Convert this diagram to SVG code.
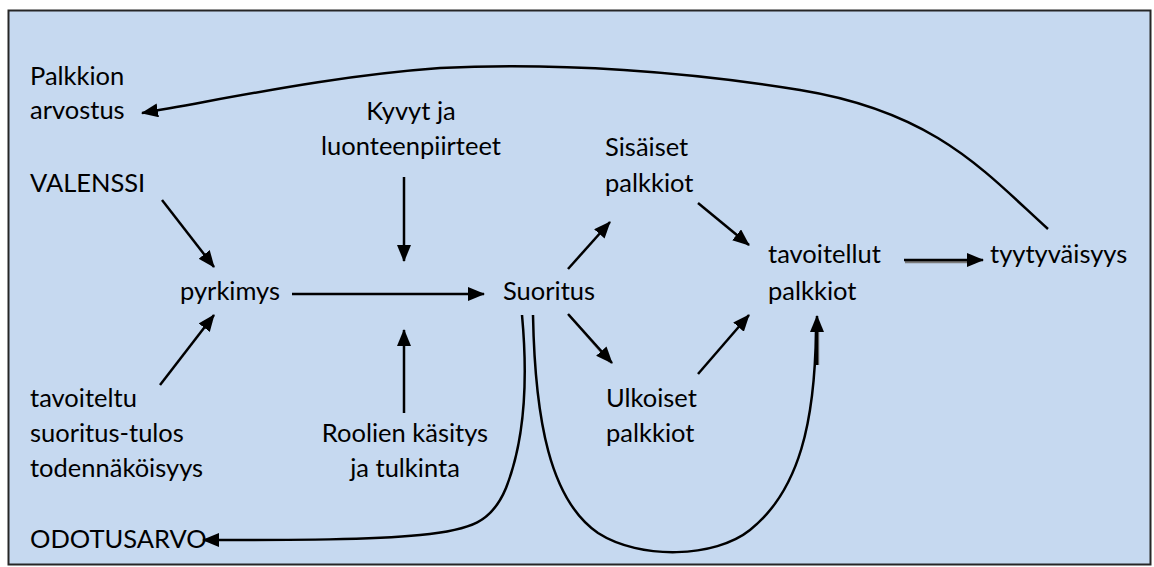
<svg xmlns="http://www.w3.org/2000/svg" width="1154" height="567" viewBox="0 0 1154 567">
  <style>
    .lbl { font-family: Lato, "Liberation Sans", sans-serif; font-size: 25.5px; fill: #000; }
    .mid { text-anchor: middle; }
    .con { fill: none; stroke: #000; stroke-width: 2.5; }
    .shadow { fill: none; stroke: #7a7a7a; stroke-width: 2.5; }
  </style>
  <defs>
    <marker id="head" markerUnits="userSpaceOnUse" markerWidth="20" markerHeight="16" refX="16" refY="7" orient="auto">
      <path d="M0,0 L17,7 L0,14 Z" fill="#000"/>
    </marker>
  </defs>

  <!-- background panel -->
  <rect x="8.5" y="10.5" width="1142" height="554" fill="#c6d9f0" stroke="#262626" stroke-width="2"/>

  <!-- nodes -->
  <g id="palkkion-arvostus">
    <text class="lbl" x="30" y="85">Palkkion</text>
    <text class="lbl" x="30" y="119">arvostus</text>
  </g>
  <g id="valenssi">
    <text class="lbl" x="30" y="192">VALENSSI</text>
  </g>
  <g id="kyvyt">
    <text class="lbl mid" x="411" y="120">Kyvyt ja</text>
    <text class="lbl mid" x="411" y="155">luonteenpiirteet</text>
  </g>
  <g id="sisaiset">
    <text class="lbl" x="605" y="156">Sisäiset</text>
    <text class="lbl" x="605" y="192">palkkiot</text>
  </g>
  <g id="pyrkimys">
    <text class="lbl" x="180" y="300">pyrkimys</text>
  </g>
  <g id="suoritus">
    <text class="lbl" x="503" y="300">Suoritus</text>
  </g>
  <g id="tavoitellut">
    <text class="lbl" x="768" y="263">tavoitellut</text>
    <text class="lbl" x="768" y="300">palkkiot</text>
  </g>
  <g id="tyytyvaisyys">
    <text class="lbl" x="990" y="263">tyytyväisyys</text>
  </g>
  <g id="tavoiteltu">
    <text class="lbl" x="30" y="407">tavoiteltu</text>
    <text class="lbl" x="30" y="442">suoritus-tulos</text>
    <text class="lbl" x="30" y="477">todennäköisyys</text>
  </g>
  <g id="roolien">
    <text class="lbl mid" x="405" y="442">Roolien käsitys</text>
    <text class="lbl mid" x="405" y="477">ja tulkinta</text>
  </g>
  <g id="ulkoiset">
    <text class="lbl" x="606" y="407">Ulkoiset</text>
    <text class="lbl" x="606" y="442">palkkiot</text>
  </g>
  <g id="odotusarvo">
    <text class="lbl" x="30" y="548">ODOTUSARVO</text>
  </g>

  <!-- connectors -->
  <g id="connectors">
    <!-- soft shadows under a few strokes -->
    <line class="shadow" x1="905" y1="262" x2="975" y2="262"/>
    <line class="shadow" x1="569" y1="315" x2="610" y2="362"/>
    <line class="shadow" x1="818" y1="365" x2="818" y2="332"/>

    <line class="con" x1="162" y1="200" x2="214" y2="267" marker-end="url(#head)"/>
    <line class="con" x1="160" y1="385" x2="214" y2="315" marker-end="url(#head)"/>
    <line class="con" x1="292" y1="294" x2="484" y2="294" marker-end="url(#head)"/>
    <line class="con" x1="404" y1="177" x2="404" y2="261" marker-end="url(#head)"/>
    <line class="con" x1="404" y1="413" x2="404" y2="330" marker-end="url(#head)"/>
    <line class="con" x1="568" y1="269" x2="610" y2="222" marker-end="url(#head)"/>
    <line class="con" x1="568" y1="314" x2="612" y2="363" marker-end="url(#head)"/>
    <line class="con" x1="698" y1="203" x2="749" y2="245" marker-end="url(#head)"/>
    <line class="con" x1="698" y1="374" x2="749" y2="315" marker-end="url(#head)"/>
    <line class="con" x1="904" y1="260" x2="983" y2="260" marker-end="url(#head)"/>
    <line class="con" x1="817" y1="365" x2="817" y2="316" marker-end="url(#head)"/>

    <!-- tyytyväisyys back to palkkion arvostus -->
    <path class="con" d="M1048,229 C985,172 935,112 800,90 C690,72 560,62 440,68 C330,76 230,98 142,113" marker-end="url(#head)"/>
    <!-- suoritus down to odotusarvo -->
    <path class="con" d="M522,315 C528,380 525,440 506,488 C492,522 472,530 420,535 C370,540 300,540 203,540" marker-end="url(#head)"/>
    <!-- suoritus round to tavoitellut palkkiot -->
    <path class="con" d="M533,315 C535,420 550,500 598,533 C640,560 715,558 750,530 C800,490 815,420 816,330"/>
  </g>
</svg>
